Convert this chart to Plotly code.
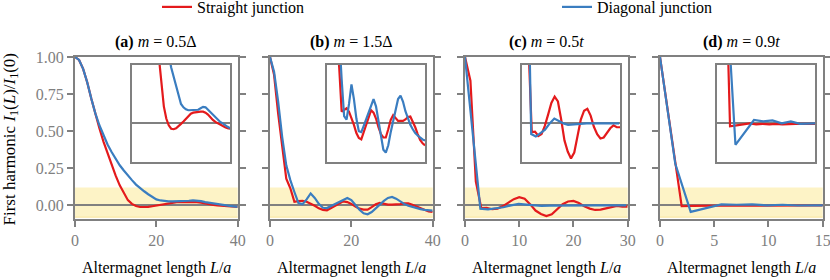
import plotly.graph_objects as go

# ---------------- data ----------------
L_a = list(range(0, 41))
red_a = [1.0, 0.98, 0.92, 0.83, 0.72, 0.61, 0.52, 0.43, 0.35, 0.27, 0.20,
         0.135, 0.08, 0.035, 0.01, -0.004, -0.011, -0.012, -0.01, -0.006, -0.001,
         0.004, 0.01, 0.016, 0.02, 0.022, 0.023, 0.023, 0.024, 0.024, 0.022,
         0.018, 0.012, 0.007, 0.003, 0.0, -0.003, -0.006, -0.008, -0.01, -0.011]
blue_a = [1.0, 0.98, 0.92, 0.83, 0.72, 0.62, 0.54, 0.47, 0.41, 0.36, 0.31,
          0.27, 0.235, 0.20, 0.17, 0.14, 0.115, 0.095, 0.075, 0.055, 0.04,
          0.033, 0.029, 0.027, 0.027, 0.027, 0.027, 0.028, 0.031, 0.034, 0.033,
          0.028, 0.022, 0.017, 0.012, 0.007, 0.003, 0.0, -0.004, -0.007, -0.01]

L_b = list(range(0, 41))
red_b = [1.0, 0.88, 0.62, 0.38, 0.18, 0.115, 0.024, 0.028, 0.031, 0.024, 0.012,
         -0.003, -0.02, -0.03, -0.033, -0.018, -0.003, 0.01, 0.027, 0.022, 0.01,
         -0.008, -0.022, -0.029, -0.029, -0.012, 0.007, 0.017, 0.01, 0.005, 0.005,
         0.005, 0.008, 0.013, 0.014, 0.004, -0.008, -0.022, -0.034, -0.041, -0.045]
blue_b = [1.0, 0.90, 0.70, 0.46, 0.27, 0.17, 0.09, 0.015, 0.008, 0.04, 0.08,
          0.05, 0.01, -0.016, -0.018, -0.005, 0.008, 0.02, 0.035, 0.05, 0.035,
          0.003, -0.03, -0.054, -0.06, -0.045, -0.018, 0.005, 0.03, 0.05, 0.057,
          0.045, 0.025, 0.01, -0.003, -0.012, -0.02, -0.025, -0.03, -0.033, -0.035]

L_c_red = list(range(0, 31))
red_c = [1.0, 0.84, 0.16, -0.018, -0.017, -0.026, -0.022, -0.005, 0.018, 0.042, 0.055,
         0.045, 0.008, -0.035, -0.058, -0.072, -0.06, -0.025, 0.008, 0.026, 0.03,
         0.016, -0.007, -0.022, -0.031, -0.029, -0.02, -0.01, -0.004, -0.008, -0.008]
L_c_blue = [0, 1.41, 2.83, 4.24, 5.66, 7.07, 8.49, 9.9, 11.3, 12.7, 14.1,
            15.6, 17.0, 18.4, 19.8, 21.2, 22.6, 24.0, 25.5, 26.9, 28.3, 29.7]
blue_c = [1.0, 0.49, -0.022, -0.027, -0.02, -0.013, 0.0, 0.01, 0.005, 0.0, -0.003,
          -0.002, -0.001, 0.0, 0.0, 0.0, 0.0, 0.0, 0.0, 0.0, 0.0, 0.0]

L_d_red = list(range(0, 16))
red_d = [1.0, 0.49, -0.006, -0.004, -0.002, 0.0, -0.002, -0.001, -0.002, -0.001,
         -0.002, -0.001, -0.001, -0.001, -0.001, -0.001]
L_d_blue = [0, 1.41, 2.83, 4.24, 5.66, 7.07, 8.49, 9.9, 11.3, 12.7, 14.1, 15.6]
blue_d = [1.0, 0.28, -0.044, -0.019, 0.007, 0.004, 0.006, 0.0, 0.004, -0.001, 0.0, 0.0]

panel_titles = ["<b>(a)</b> <i>m</i> = 0.5Δ", "<b>(b)</b> <i>m</i> = 1.5Δ",
                "<b>(c)</b> <i>m</i> = 0.5<i>t</i>", "<b>(d)</b> <i>m</i> = 0.9<i>t</i>"]
x_max = [40, 40, 30, 15]
x_ticks = [[0, 20, 40], [0, 20, 40], [0, 10, 20, 30], [0, 5, 10, 15]]
y_ticks = [0, 0.25, 0.5, 0.75, 1.0]
y_ticktext = ["0.00", "0.25", "0.50", "0.75", "1.00"]
series_names = ["Straight junction", "Diagonal junction"]

panels = [
    (L_a, red_a, L_a, blue_a),
    (L_b, red_b, L_b, blue_b),
    (L_c_red, red_c, L_c_blue, blue_c),
    (L_d_red, red_d, L_d_blue, blue_d),
]

# ---------------- style ----------------
W, H = 830, 280
RED = "#e41a1c"
BLUE = "#3a7dc0"
GRAY = "#808080"
YELLOW = "#fdf3c6"
FONT = "Liberation Serif"
FS = 16

lefts = [75, 270, 465, 660]
pw = 162.7
top, bot = 57, 219
band = (-0.08, 0.12)
y_range = [-0.092, 1.0]

def fx(p):
    return p / W

def fy(p):
    return 1 - p / H

fig = go.Figure()
leg_common = dict(orientation="h", xanchor="left", yanchor="middle",
                  bgcolor="rgba(0,0,0,0)", font=dict(family=FONT, size=FS),
                  itemwidth=30, borderwidth=0)
layout = dict(
    width=W, height=H, margin=dict(l=0, r=0, t=0, b=0, autoexpand=False),
    plot_bgcolor="white", paper_bgcolor="white",
    font=dict(family=FONT, size=FS, color="black"),
    showlegend=True,
    legend=dict(x=fx(157), y=fy(7), **leg_common),
    legend2=dict(x=fx(557), y=fy(7), **leg_common),
)
shapes = []
annotations = []

for i, (lr, vr, lb, vb) in enumerate(panels):
    n = i + 1
    ni = i + 5
    xa = "x" if n == 1 else f"x{n}"
    ya = "y" if n == 1 else f"y{n}"
    xi = f"x{ni}"
    yi = f"y{ni}"
    left = lefts[i]
    layout[f"xaxis{'' if n == 1 else n}"] = dict(
        domain=[fx(left), fx(left + pw)], range=[0, x_max[i]], anchor=ya,
        showline=True, linecolor=GRAY, linewidth=2, mirror=True,
        ticks="outside", ticklen=6, tickwidth=1.5, tickcolor=GRAY,
        tickvals=x_ticks[i], tickfont=dict(color=GRAY, size=FS, family=FONT),
        showgrid=False, zeroline=False, automargin=False, ticklabeloverflow="allow",
    )
    layout[f"yaxis{'' if n == 1 else n}"] = dict(
        domain=[fy(bot), fy(top)], range=y_range, anchor=xa,
        showline=True, linecolor=GRAY, linewidth=2, mirror="allticks",
        ticks="outside", ticklen=6, tickwidth=1.5, tickcolor=GRAY,
        tickvals=y_ticks, ticktext=y_ticktext, showticklabels=(n == 1),
        tickfont=dict(color=GRAY, size=FS, family=FONT),
        showgrid=False, zeroline=True, zerolinecolor=GRAY, zerolinewidth=2,
        automargin=False,
    )
    il = left + 0.35 * pw
    ir = left + 0.953 * pw
    layout[f"xaxis{ni}"] = dict(
        domain=[fx(il), fx(ir)], range=[0, x_max[i]], anchor=yi,
        showline=True, linecolor=GRAY, linewidth=2, mirror=True,
        ticks="", showticklabels=False, showgrid=False, zeroline=False,
    )
    layout[f"yaxis{ni}"] = dict(
        domain=[fy(162.3), fy(65)], range=list(band), anchor=xi,
        showline=True, linecolor=GRAY, linewidth=2, mirror=True,
        ticks="", showticklabels=False, showgrid=False,
        zeroline=True, zerolinecolor=GRAY, zerolinewidth=2,
    )
    shapes.append(dict(type="rect", xref=f"{xa} domain", yref=ya, x0=0, x1=1,
                       y0=band[0], y1=band[1], fillcolor=YELLOW, line=dict(width=0),
                       layer="below"))
    shapes.append(dict(type="line", xref=f"{xa} domain", yref=ya, x0=0, x1=1,
                       y0=band[0], y1=band[0], line=dict(color="#fbe9a6", width=1.2),
                       layer="below"))
    shapes.append(dict(type="rect", xref=f"{xi} domain", yref=f"{yi} domain", x0=0, x1=1,
                       y0=0, y1=1, fillcolor=YELLOW, line=dict(width=0), layer="below"))
    for (xs, ys, col, name, lg) in [(lr, vr, RED, series_names[0], "legend"),
                                    (lb, vb, BLUE, series_names[1], "legend2")]:
        fig.add_trace(go.Scatter(x=xs, y=ys, mode="lines", line=dict(color=col, width=2.2),
                                 name=name, showlegend=(i == 0), legend=lg,
                                 xaxis=xa, yaxis=ya, hoverinfo="skip"))
    for (xs, ys, col, name) in [(lr, vr, RED, series_names[0]), (lb, vb, BLUE, series_names[1])]:
        fig.add_trace(go.Scatter(x=xs, y=ys, mode="lines", line=dict(color=col, width=2.2),
                                 name=name, showlegend=False, xaxis=xi, yaxis=yi,
                                 hoverinfo="skip"))
    cx = fx(left + pw / 2)
    annotations.append(dict(text=panel_titles[i], x=cx, y=fy(42), xref="paper", yref="paper",
                            xanchor="center", yanchor="middle", showarrow=False,
                            font=dict(family=FONT, size=FS, color="black")))
    annotations.append(dict(text="Altermagnet length <i>L</i>/<i>a</i>", x=cx, y=fy(268),
                            xref="paper", yref="paper", xanchor="center", yanchor="middle",
                            showarrow=False, font=dict(family=FONT, size=FS, color="black")))

annotations.append(dict(text="First harmonic <i>I</i><sub>1</sub>(<i>L</i>)/<i>I</i><sub>1</sub>(0)",
                        x=fx(10.5), y=fy(139), xref="paper", yref="paper", textangle=-90,
                        xanchor="center", yanchor="middle", showarrow=False,
                        font=dict(family=FONT, size=17, color="black")))

layout["shapes"] = shapes
layout["annotations"] = annotations
fig.update_layout(**layout)
fig.write_html("out.html", config={"displayModeBar": False},
               post_script="document.body.style.margin='0px';document.body.style.padding='0px';")
